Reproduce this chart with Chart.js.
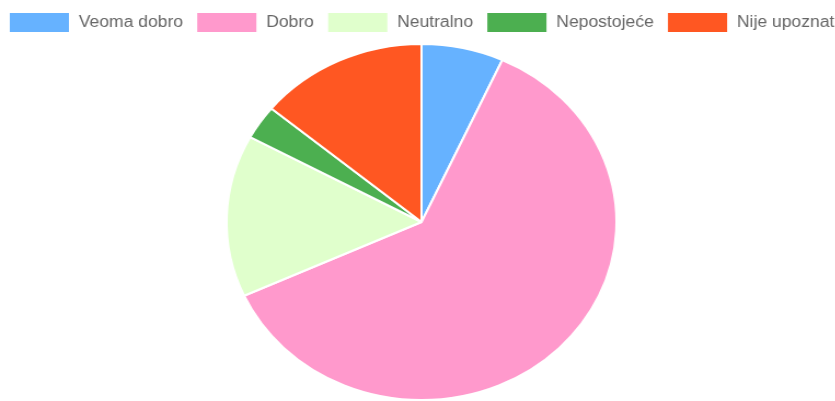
<!DOCTYPE html>
<html>
<head>
<meta charset="utf-8">
<script src="https://cdn.jsdelivr.net/npm/chart.js@4"></script>
<style>
  html, body { margin: 0; padding: 0; background: #fff; overflow: hidden; width: 835px; height: 401px; position: relative; }
  #wrap { position: absolute; left: -11.5px; top: 0; width: 790px; height: 401px; transform: scaleX(1.095); transform-origin: 0 0; }
</style>
</head>
<body>
<div id="wrap"><canvas id="c"></canvas></div>
<script>
const categories = ["Veoma dobro", "Dobro", "Neutralno", "Nepostojeće", "Nije upoznat"];
const values = [6.8, 61.4, 14.7, 3.1, 14.0];
const colors = ["#66b2ff", "#ff99cc", "#e0ffcc", "#4caf50", "#ff5722"];

new Chart(document.getElementById("c"), {
  type: "pie",
  data: {
    labels: categories,
    datasets: [{
      data: values,
      backgroundColor: colors,
      borderColor: "#ffffff",
      borderWidth: 2
    }]
  },
  options: {
    responsive: true,
    maintainAspectRatio: false,
    animation: false,
    plugins: {
      legend: {
        position: "top",
        labels: {
          boxWidth: 56,
          boxHeight: 21,
          color: "#666",
          padding: 12,
          font: { family: "Liberation Sans, Arial, sans-serif", size: 16 }
        }
      },
      tooltip: { enabled: false }
    }
  }
});
</script>
</body>
</html>
